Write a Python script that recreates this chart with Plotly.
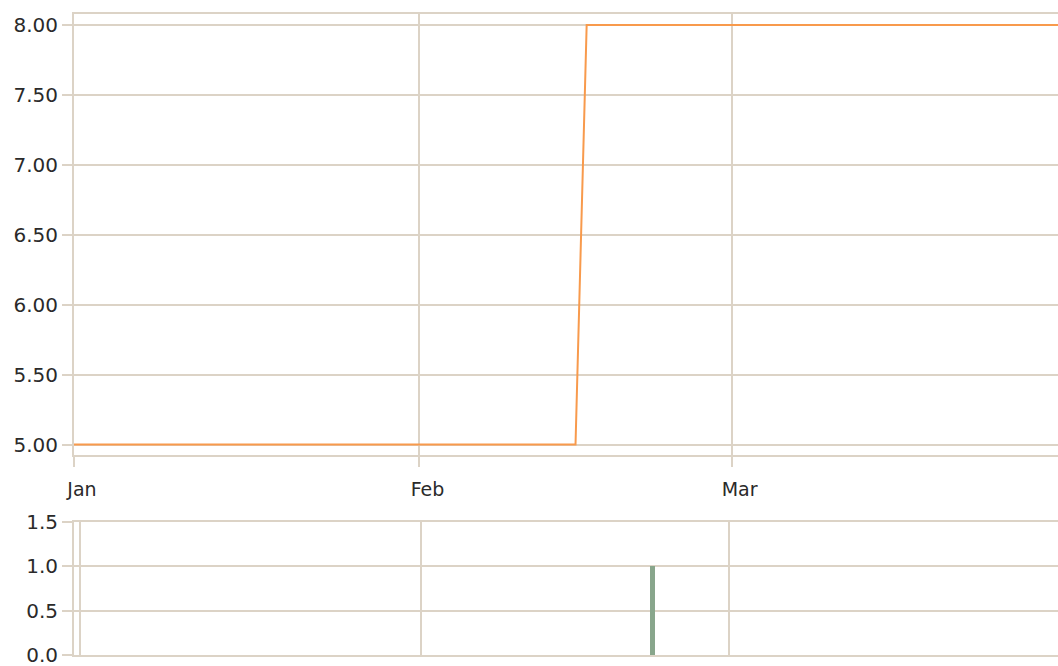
import plotly.graph_objects as go

# Data
line_dates = ["2009-01-01", "2009-02-15", "2009-02-16", "2009-03-31"]
line_values = [5.0, 5.0, 8.0, 8.0]

bar_dates = ["2009-02-22"]
bar_values = [1.0]

top_y_ticks = [5.0, 5.5, 6.0, 6.5, 7.0, 7.5, 8.0]
bottom_y_ticks = [0.0, 0.5, 1.0, 1.5]

GRID = "#dcd3c6"
TEXT = "#2a2a2a"
FONT = "DejaVu Sans"

fig = go.Figure()
fig.add_trace(go.Scatter(x=line_dates, y=line_values, mode="lines",
                         line=dict(color="#f89a4c", width=2),
                         xaxis="x", yaxis="y", showlegend=False))
fig.add_trace(go.Bar(x=bar_dates, y=bar_values, width=0.45 * 86400000,
                     marker=dict(color="#88a68c", line=dict(width=0)),
                     xaxis="x2", yaxis="y2", showlegend=False))

fig.update_layout(
    width=1058, height=666,
    margin=dict(l=74, r=0, t=14, b=11, autoexpand=False),
    paper_bgcolor="white", plot_bgcolor="white",
    font=dict(family=FONT, size=20, color=TEXT),
    xaxis=dict(
        domain=[0, 1], anchor="y", type="date", automargin=False,
        range=["2009-01-01", "2009-03-30 07:00"],
        tickvals=["2009-01-01", "2009-02-01", "2009-03-01"],
        ticktext=["Jan", "Feb", "Mar"],
        ticks="outside", ticklen=10, tickwidth=2, tickcolor=GRID,
        ticklabelshift=8, ticklabelstandoff=6, ticklabeloverflow="allow",
        showgrid=True, gridcolor=GRID, gridwidth=2,
        showline=True, mirror=True, linecolor=GRID, linewidth=2,
        zeroline=False, tickfont=dict(size=19),
    ),
    yaxis=dict(
        domain=[0.312, 1.0], anchor="x", automargin=False,
        range=[4.925, 8.079],
        tickvals=top_y_ticks, tickformat=".2f",
        ticks="outside", ticklen=10, tickwidth=2, tickcolor=GRID,
        ticklabeloverflow="allow",
        showgrid=True, gridcolor=GRID, gridwidth=2,
        showline=True, linecolor=GRID, linewidth=2,
        zeroline=False, tickfont=dict(size=20),
    ),
    xaxis2=dict(
        domain=[0, 1], anchor="y2", type="date", automargin=False,
        range=["2008-12-31 12:00", "2009-03-30 20:00"],
        tickvals=["2009-01-01", "2009-02-01", "2009-03-01"],
        showticklabels=False, ticks="",
        showgrid=True, gridcolor=GRID, gridwidth=2,
        showline=True, mirror=True, linecolor=GRID, linewidth=2,
        zeroline=False,
    ),
    yaxis2=dict(
        domain=[0, 0.2075], anchor="x2", automargin=False,
        range=[0, 1.5],
        tickvals=bottom_y_ticks, tickformat=".1f",
        ticks="outside", ticklen=10, tickwidth=2, tickcolor=GRID,
        ticklabeloverflow="allow",
        showgrid=True, gridcolor=GRID, gridwidth=2,
        showline=True, linecolor=GRID, linewidth=2,
        zeroline=False, tickfont=dict(size=20),
    ),
    bargap=0,
)

# remove the default page margin so the 1058x666 figure fills the window exactly
fig.write_html(
    "out.html",
    config={"displayModeBar": False},
    post_script="document.body.style.margin='0';document.body.style.overflow='hidden';",
)
